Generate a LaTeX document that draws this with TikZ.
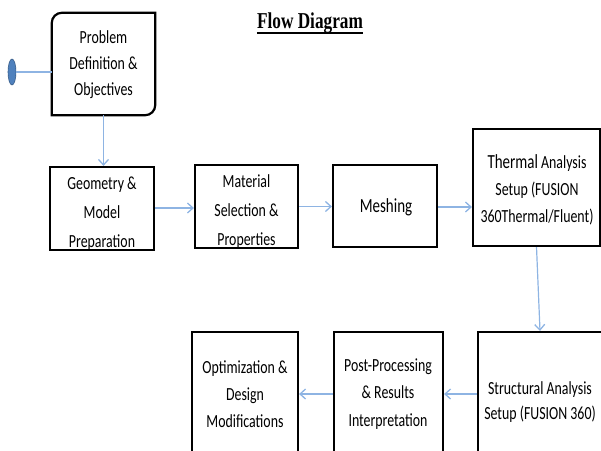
\documentclass[tikz,border=0pt]{standalone}
\usepackage{fontspec}
\usetikzlibrary{arrows.meta,shapes.geometric}
\newfontfamily\cf{Carlito}[FakeStretch=0.75]
\newfontfamily\tf{Liberation Serif}[FakeStretch=0.76]
\definecolor{arr}{HTML}{8EB4E3}
\definecolor{ovalfill}{HTML}{4F81BD}
\definecolor{ovaldraw}{HTML}{385D8A}
\tikzset{
  boxline/.style={draw=black,line width=2.2pt},
  boxst/.style={boxline,rectangle,inner sep=0pt},
  txt/.style={font=\cf\fontsize{18.5}{#1}\selectfont,align=center,inner sep=0pt},
  conn/.style={draw=arr,line width=1.7pt,-{Straight Barb[length=5.5pt,width=10pt,line width=1.3pt]}},
}
\begin{document}
\begin{tikzpicture}[x=1pt,y=-1pt]
\useasboundingbox (0,0) rectangle (601,450);
\clip (0,0) rectangle (601,450);
% title
\node[font=\tf\bfseries\fontsize{22.7}{26}\selectfont,inner sep=0pt,anchor=base] (title) at (310,28) {Flow Diagram};
\draw[line width=1.4pt] ([yshift=-5pt]title.base west) -- ([yshift=-5pt]title.base east);
% start oval
\node[ellipse,fill=ovalfill,draw=ovaldraw,line width=0.6pt,minimum width=8pt,minimum height=26pt,inner sep=0pt] (start) at (12,72) {};
% boxes
\node[inner sep=0pt,minimum width=103pt,minimum height=102pt] (prob) at (103.5,64) {};
\draw[boxline] (prob.south west) -- ([yshift=-10pt]prob.north west) to[out=90,in=180] ([xshift=10pt]prob.north west) -- (prob.north east) -- ([yshift=10pt]prob.south east) to[out=-90,in=0] ([xshift=-10pt]prob.south east) -- cycle;
\node[txt=26] (tprob) at (103.5,64.5) {Problem\\Definition \&\\Objectives};

\node[boxst,minimum width=104pt,minimum height=83pt] (geom) at (102,208.5) {};
\node[txt=29] (tgeom) at (102,214) {Geometry \&\\Model\\Preparation};

\node[boxst,minimum width=103pt,minimum height=83pt] (mat) at (246.5,206.5) {};
\node[txt=29] (tmat) at (246.5,212) {Material\\Selection \&\\Properties};

\node[boxst,minimum width=104pt,minimum height=82pt] (mesh) at (385,206) {};
\node[txt=24,font=\cf\fontsize{20}{24}\selectfont] (tmesh) at (386,207) {Meshing};

\node[boxst,minimum width=127pt,minimum height=117pt] (therm) at (536.5,187.5) {};
\node[txt=27] (ttherm) at (537,190) {{\fontsize{20}{27}\selectfont Thermal} Analysis\\Setup (FUSION\\360Thermal/Fluent)};

\node[boxst,minimum width=124pt,minimum height=140pt] (struct) at (540,402) {};
\node[txt=25] (tstruct) at (540,402) {Structural Analysis\\Setup (FUSION 360)};

\node[boxst,minimum width=109pt,minimum height=140pt] (post) at (388.5,402) {};
\node[txt=27.5] (tpost) at (388,394) {Post-Processing\\\& Results\\Interpretation};

\node[boxst,minimum width=106pt,minimum height=140pt] (opt) at (245,402) {};
\node[txt=27] (topt) at (245,394) {Optimization \&\\Design\\Modifications};

% connectors
\draw[draw=arr,line width=1.6pt] (start.east) -- (start.east -| prob.west);
\draw[conn] (prob.south) -- (geom.north -| prob.south);
\draw[conn] ([yshift=0.5pt]geom.east) -- ([yshift=0.5pt]geom.east -| mat.west);
\draw[conn] (mat.east) -- (mat.east -| mesh.west);
\draw[conn] ([yshift=-1pt]mesh.east) -- ([yshift=-1pt]mesh.east -| therm.west);
\draw[conn,line width=1.2pt] (therm.south) -- (struct.north);
\draw[conn] (struct.west |- 0,394) -- (post.east |- 0,394);
\draw[conn] (post.west |- 0,394) -- (opt.east |- 0,394);
\end{tikzpicture}
\end{document}
